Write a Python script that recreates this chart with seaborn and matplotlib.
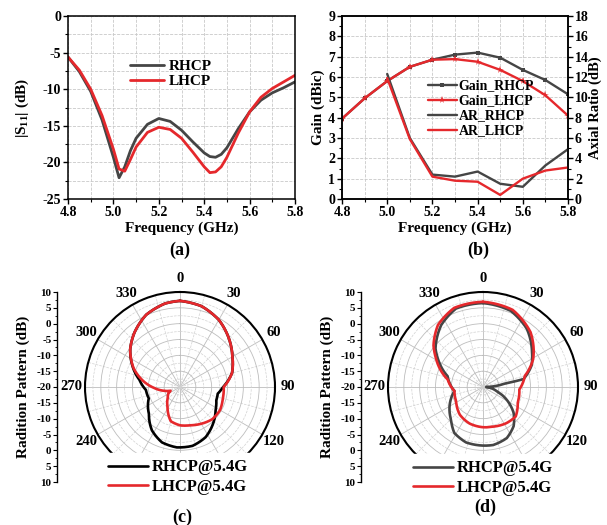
import numpy as np
import matplotlib
matplotlib.use("Agg")
import matplotlib.pyplot as plt
from matplotlib.ticker import MultipleLocator
import seaborn as sns

# ---- (a) |S11| ----
s11_freq = [4.8, 4.85, 4.9, 4.95, 5.0, 5.025, 5.05, 5.075, 5.1, 5.15, 5.2, 5.25, 5.3,
            5.35, 5.4, 5.425, 5.45, 5.475, 5.5, 5.55, 5.6, 5.65, 5.7, 5.75, 5.8]
s11_rhcp = [-5.6, -7.6, -10.3, -14.2, -19.3, -22.1, -20.6, -18.4, -16.7, -14.8, -14.0, -14.4, -15.6,
            -17.2, -18.7, -19.2, -19.3, -18.9, -18.0, -15.4, -13.1, -11.5, -10.5, -9.8, -9.0]
s11_lhcp = [-5.6, -7.4, -10.0, -13.6, -18.2, -20.9, -21.2, -19.6, -17.9, -15.9, -15.2, -15.5, -16.7,
            -18.6, -20.6, -21.4, -21.3, -20.6, -19.3, -16.0, -13.1, -11.1, -9.9, -9.0, -8.1]

# ---- (b) gain / axial ratio ----
gain_freq = [4.8, 4.9, 5.0, 5.1, 5.2, 5.3, 5.4, 5.5, 5.6, 5.7, 5.8]
gain_rhcp = [3.95, 4.95, 5.8, 6.5, 6.85, 7.1, 7.2, 6.95, 6.35, 5.85, 5.15]
gain_lhcp = [3.95, 4.95, 5.8, 6.5, 6.85, 6.88, 6.75, 6.35, 5.8, 5.1, 4.1]
ar_freq = [5.0, 5.1, 5.2, 5.3, 5.4, 5.5, 5.6, 5.7, 5.8]
ar_rhcp = [12.3, 6.0, 2.4, 2.2, 2.7, 1.5, 1.2, 3.3, 4.9]
ar_lhcp = [11.9, 5.9, 2.2, 1.8, 1.7, 0.4, 2.0, 2.8, 3.1]

# ---- (c) radiation pattern ----
c_rhcp_deg = [0, 15, 30, 45, 60, 75, 90, 100, 110, 123, 138, 153, 168, 183, 198, 213, 229,
              250, 265, 280, 295, 307, 320, 335, 350, 360]
c_rhcp_db = [7.2, 6.4, 4.5, 1.8, -0.9, -3.0, -6.4, -7.9, -7.8, -6.6, -4.4, -2.2, -1.0, -0.9, -1.6,
             -3.7, -7.0, -9.5, -9.2, -7.0, -3.3, -0.3, 2.4, 5.2, 6.8, 7.2]
c_lhcp_deg = [0, 15, 30, 45, 60, 75, 90, 105, 120, 135, 150, 165, 180, 195, 212, 228, 241, 248,
              256, 268, 280, 292, 307, 320, 335, 350, 360]
c_lhcp_db = [7.2, 6.4, 4.5, 1.8, -0.9, -3.0, -6.2, -6.0, -5.4, -5.6, -6.6, -7.5, -7.9, -8.8, -12.6,
             -14.8, -15.8, -16.8, -15.0, -11.8, -8.0, -4.2, -0.3, 2.4, 5.2, 6.8, 7.2]

# ---- (d) radiation pattern ----
d_rhcp_deg = [0, 20, 37, 55, 66, 79, 81, 90, 107, 118, 130, 142, 155, 170, 180, 197, 212, 224,
              249, 262, 287, 302, 309, 326, 341, 360]
d_rhcp_db = [6.5, 5.6, 3.0, -1.1, -3.2, -7.0, -13.0, -19.0, -15.5, -11.6, -7.4, -4.3, -2.2, -1.4,
             -1.5, -1.7, -2.9, -5.5, -9.1, -10.9, -8.3, -3.2, -0.7, 3.6, 6.2, 6.5]
d_lhcp_deg = [0, 21, 41, 61, 75, 94, 114, 132, 147, 166, 180, 200, 220, 242, 262, 282, 302, 310,
              324, 340, 360]
d_lhcp_db = [6.9, 6.1, 2.9, -1.9, -6.3, -8.5, -8.0, -6.1, -6.4, -7.1, -7.3, -7.7, -8.6, -10.4,
             -10.9, -8.6, -2.4, 0.4, 4.2, 6.6, 6.9]

theta_labels = ['0', '30', '60', '90', '120', '', '', '', '240', '270', '300', '330']

DARK = '#454545'
RED = '#e5282c'
GRID = '#c9c9c9'

sns.set_style('ticks')
plt.rcParams.update({
    'font.family': ['Liberation Serif', 'DejaVu Serif'],
    'font.weight': 'bold',
    'axes.labelweight': 'bold',
    'mathtext.fontset': 'custom',
    'mathtext.rm': 'Liberation Serif:bold',
    'mathtext.bf': 'Liberation Serif:bold',
    'mathtext.it': 'Liberation Serif:italic:bold',
    'axes.unicode_minus': False,
    'axes.edgecolor': 'black',
    'axes.linewidth': 1.1,
    'xtick.color': 'black',
    'ytick.color': 'black',
    'text.color': 'black',
    'axes.labelcolor': 'black',
    'xtick.direction': 'out',
    'ytick.direction': 'out',
})

W, H = 607, 525
fig = plt.figure(figsize=(W / 100, H / 100), dpi=100)


def style_ticks(ax):
    ax.tick_params(which='major', length=3.5, width=1.0, labelsize=10, pad=1.5)
    ax.tick_params(which='minor', length=2, width=0.8)


# ================= (a) =================
ax_a = fig.add_axes([68 / W, 1 - 199 / H, 227 / W, 183 / H])
sns.lineplot(x=s11_freq, y=s11_rhcp, ax=ax_a, color=DARK, lw=2.0, label='RHCP', estimator=None)
sns.lineplot(x=s11_freq, y=s11_lhcp, ax=ax_a, color=RED, lw=2.0, label='LHCP', estimator=None)
ax_a.set_xlim(4.8, 5.8)
ax_a.set_ylim(-25, 0)
ax_a.xaxis.set_major_locator(MultipleLocator(0.2))
ax_a.xaxis.set_minor_locator(MultipleLocator(0.1))
ax_a.yaxis.set_major_locator(MultipleLocator(5))
ax_a.yaxis.set_minor_locator(MultipleLocator(2.5))
ax_a.grid(which='both', ls='--', color=GRID, lw=0.6)
ax_a.set_axisbelow(True)
style_ticks(ax_a)
ax_a.set_xlabel('Frequency (GHz)', fontsize=11, labelpad=2)
ax_a.set_ylabel(r'|S$_{\mathrm{11}}$| (dB)', fontsize=11, labelpad=8)
ax_a.legend(loc='center left', bbox_to_anchor=(124 / W, 1 - 74 / H), bbox_transform=fig.transFigure,
            frameon=False, fontsize=11, handlelength=2.2, handletextpad=0.3, labelspacing=0.1,
            borderpad=0.4, borderaxespad=0)

# ================= (b) =================
ax_b = fig.add_axes([342 / W, 1 - 199 / H, 226 / W, 183 / H])
sns.lineplot(x=gain_freq, y=gain_rhcp, ax=ax_b, color=DARK, lw=1.7, marker='s', markersize=3.5,
             markeredgewidth=0, label='Gain_RHCP', estimator=None)
sns.lineplot(x=gain_freq, y=gain_lhcp, ax=ax_b, color=RED, lw=1.7, marker='*', markersize=5.5,
             markeredgewidth=0, label='Gain_LHCP', estimator=None)
ax_b2 = ax_b.twinx()
sns.lineplot(x=ar_freq, y=ar_rhcp, ax=ax_b2, color=DARK, lw=1.7, label='AR_RHCP', estimator=None)
sns.lineplot(x=ar_freq, y=ar_lhcp, ax=ax_b2, color=RED, lw=1.7, label='AR_LHCP', estimator=None)
ax_b.set_xlim(4.8, 5.8)
ax_b.set_ylim(0, 9)
ax_b2.set_ylim(0, 18)
ax_b.xaxis.set_major_locator(MultipleLocator(0.2))
ax_b.xaxis.set_minor_locator(MultipleLocator(0.1))
ax_b.yaxis.set_major_locator(MultipleLocator(1))
ax_b.yaxis.set_minor_locator(MultipleLocator(0.5))
ax_b2.yaxis.set_major_locator(MultipleLocator(2))
ax_b2.yaxis.set_minor_locator(MultipleLocator(1))
ax_b.grid(which='both', axis='x', ls='--', color=GRID, lw=0.6)
ax_b.grid(which='major', axis='y', ls='--', color=GRID, lw=0.6)
ax_b.set_axisbelow(True)
style_ticks(ax_b)
style_ticks(ax_b2)
ax_b.set_xlabel('Frequency (GHz)', fontsize=11, labelpad=2)
ax_b.set_ylabel('Gain (dBic)', fontsize=11, labelpad=2)
ax_b2.set_ylabel('Axial Ratio (dB)', fontsize=10.5, labelpad=0)
h1, l1 = ax_b.get_legend_handles_labels()
h2, l2 = ax_b2.get_legend_handles_labels()
if ax_b.get_legend() is not None:
    ax_b.get_legend().remove()
ax_b2.legend(h1 + h2, l1 + l2, loc='center left', bbox_to_anchor=(422 / W, 1 - 108.5 / H),
             bbox_transform=fig.transFigure, frameon=False, fontsize=10, handlelength=2.1,
             handletextpad=0.15, labelspacing=0.15, borderpad=0.4, borderaxespad=0)

fig.text(180 / W, 1 - 250 / H, '(a)', ha='center', va='center', fontsize=13)
fig.text(478 / W, 1 - 250 / H, '(b)', ha='center', va='center', fontsize=13)


# ================= (c) / (d) =================
def polar_panel(cx, axis_x, r_deg, r_db, l_deg, l_db, rcolor, leg_x, leg_y):
    R = 95
    cy = 387
    rect = [(cx - R) / W, 1 - (cy + R) / H, 2 * R / W, 2 * R / H]
    ax = fig.add_axes(rect, projection='polar')
    ax.set_theta_zero_location('N')
    ax.set_theta_direction(-1)
    sns.lineplot(x=np.deg2rad(r_deg), y=r_db, ax=ax, sort=False, estimator=None,
                 color=rcolor, lw=1.9, label='RHCP@5.4G')
    sns.lineplot(x=np.deg2rad(l_deg), y=l_db, ax=ax, sort=False, estimator=None,
                 color=RED, lw=1.9, label='LHCP@5.4G')
    # let the polar transform draw each segment as a smooth arc-like curve
    for ln in ax.lines:
        ln.get_path()._interpolation_steps = 24
    ax.set_ylim(-20, 10)
    ax.set_yticks([-15, -10, -5, 0, 5])
    ax.set_yticks(np.arange(-17.5, 10, 5), minor=True)
    ax.set_yticklabels([])
    ax.set_xticks(np.deg2rad(np.arange(0, 360, 30)))
    ax.set_xticklabels(theta_labels)
    ax.set_xticks(np.deg2rad(np.arange(15, 360, 30)), minor=True)
    ax.grid(which='major', color='#bdbdbd', lw=0.6, ls='-')
    ax.grid(which='minor', color='#d2d2d2', lw=0.5, ls='--')
    ax.tick_params(axis='x', which='major', pad=2.5, length=0, labelsize=10.5)
    ax.tick_params(axis='x', which='minor', length=0)
    ax.spines['polar'].set_linewidth(1.5)
    ax.spines['polar'].set_color('black')
    ax.set_xlabel('')
    ax.set_ylabel('')
    ax.legend(loc='center left', bbox_to_anchor=(leg_x / W, 1 - leg_y / H),
              bbox_transform=fig.transFigure, fontsize=12, frameon=True, facecolor='white',
              edgecolor='white', framealpha=1, fancybox=False, handlelength=2.4,
              handletextpad=0.25, labelspacing=0.2, borderpad=0.4, borderaxespad=0)

    # side radial scale (-20 at the centre, +10 at the rim on both sides)
    axr = fig.add_axes([axis_x / W, rect[1], 0.0001, rect[3]])
    axr.patch.set_visible(False)
    axr.set_ylim(-30, 30)
    ticks = np.arange(-30, 31, 5)
    axr.set_yticks(ticks)
    axr.set_yticklabels([str(int(abs(t)) - 20) for t in ticks])
    axr.yaxis.set_minor_locator(MultipleLocator(2.5))
    axr.set_xticks([])
    for side in ['top', 'right', 'bottom']:
        axr.spines[side].set_visible(False)
    axr.spines['left'].set_linewidth(1.0)
    axr.tick_params(axis='y', which='major', labelsize=8, length=3, pad=1)
    axr.tick_params(axis='y', which='minor', length=1.5)
    axr.set_ylabel('Radition Pattern (dB)', fontsize=11, labelpad=5)
    return ax


polar_panel(180, 57, c_rhcp_deg, c_rhcp_db, c_lhcp_deg, c_lhcp_db, 'black', 101, 477)
polar_panel(483, 361, d_rhcp_deg, d_rhcp_db, d_lhcp_deg, d_lhcp_db, DARK, 406, 478)

fig.text(182 / W, 1 - 517 / H, '(c)', ha='center', va='center', fontsize=13)
fig.text(485 / W, 1 - 507 / H, '(d)', ha='center', va='center', fontsize=13)

fig.savefig('out.png', dpi=100, facecolor='white')
